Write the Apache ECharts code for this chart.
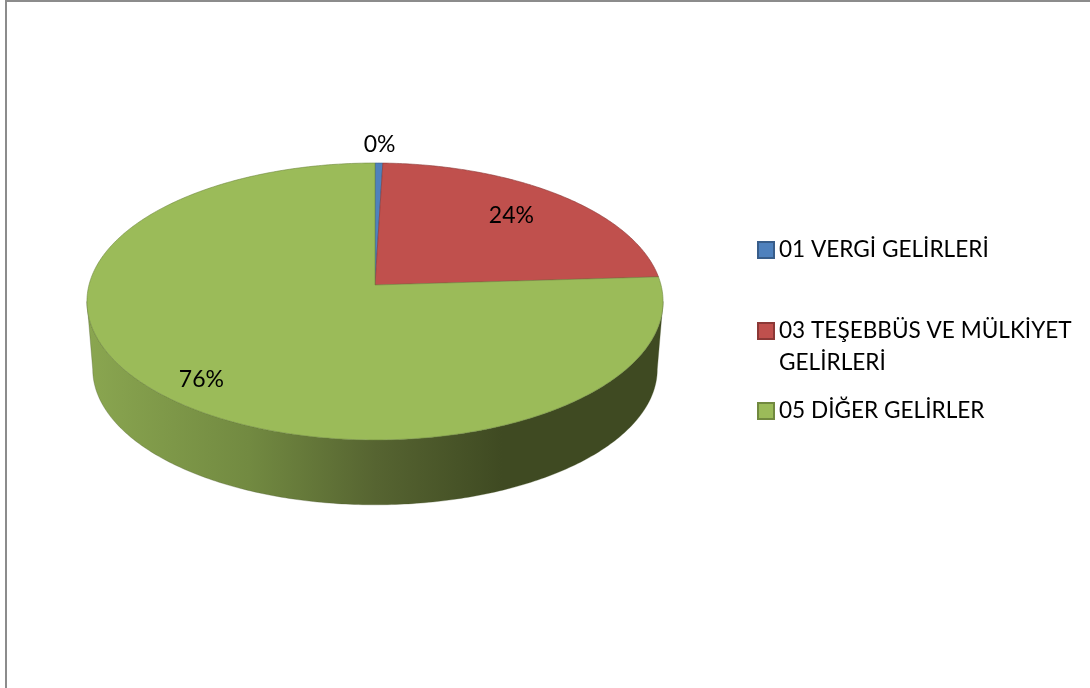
<!DOCTYPE html>
<html>
<head>
<meta charset="utf-8">
<style>html,body{margin:0;padding:0;background:#fff}#c{width:1090px;height:688px}</style>
<script src="https://cdn.jsdelivr.net/npm/echarts@6/dist/echarts.min.js"></script>
</head>
<body>
<div id="c"></div>
<script>
// Data
const categories = ['01 VERGİ GELİRLERİ', '03 TEŞEBBÜS VE MÜLKİYET GELİRLERİ', '05 DİĞER GELİRLER'];
const values = [0.49, 23.56, 75.95];
const percentLabels = ['0%', '24%', '76%'];

// Styling / layout
const colors = ['#4f81bd', '#c0504d', '#9bbb59'];
const borders = ['#385d8a', '#8c3836', '#71893f'];
const labelRadius = [1.172, 0.745, 0.85];
const labelAngleShift = [0, -1.2, -2];
const legendTops = [234, 283, 395];
const FONT = 'Lato';
const FONT_SIZE = 22.6;
const LABEL_FONT_SIZE = 23;
const APEX = { x: 375, y: 285 };
const A = 286, B = 136.5, K = 0.119;
const DEPTH = 68, BOTTOM_SCALE = 0.98;
const total = values.reduce((a, b) => a + b, 0);

function project(theta, r, dy, s) {
  const X = r * Math.sin(theta), Y = -r * Math.cos(theta), d = 1 - K * Y;
  return [APEX.x + s * A * X / d, APEX.y + dy + s * B * Y / d];
}
function arcPoints(t0, t1, dy, s) {
  const n = Math.max(2, Math.ceil(Math.abs(t1 - t0) / (Math.PI / 240)));
  const pts = [];
  for (let i = 0; i <= n; i++) pts.push(project(t0 + (t1 - t0) * i / n, 1, dy, s));
  return pts;
}
const frontStart = Math.acos(-K), frontEnd = 2 * Math.PI - frontStart;

function renderSlice(params, api) {
  const i = params.seriesIndex;
  const before = values.slice(0, i).reduce((a, b) => a + b, 0);
  const t0 = before / total * 2 * Math.PI;
  const t1 = t0 + api.value(0) / total * 2 * Math.PI;
  const children = [];
  const ws = Math.max(t0, frontStart), we = Math.min(t1, frontEnd);
  if (we > ws) {
    const wall = arcPoints(ws, we, 0, 1).concat(arcPoints(we, ws, DEPTH, BOTTOM_SCALE));
    children.push({
      type: 'polygon',
      shape: { points: wall },
      style: {
        fill: {
          type: 'linear', x: 87, y: 0, x2: 664, y2: 0, global: true,
          colorStops: [
            { offset: 0, color: '#8aa650' },
            { offset: 0.28, color: '#728a41' },
            { offset: 0.5, color: '#566431' },
            { offset: 0.72, color: '#3f4a22' },
            { offset: 1, color: '#3f4a22' }
          ]
        },
        stroke: 'rgba(70,85,40,0.5)', lineWidth: 0.6
      }
    });
  }
  children.push({
    type: 'polygon',
    shape: { points: [[APEX.x, APEX.y]].concat(arcPoints(t0, t1, 0, 1)) },
    style: { fill: colors[i], stroke: borders[i], lineWidth: 0.6, lineJoin: 'round' }
  });
  const lp = project((t0 + t1) / 2 + labelAngleShift[i] * Math.PI / 180, labelRadius[i], 0, 1);
  children.push({
    type: 'text', z2: 10,
    style: {
      x: lp[0], y: lp[1], text: percentLabels[i], fill: '#000',
      font: LABEL_FONT_SIZE + 'px ' + FONT, align: 'center', verticalAlign: 'middle'
    }
  });
  return { type: 'group', children };
}

// the leading empty line keeps the icon level with the first text line
const legendNames = { };
legendNames[categories[1]] = '\n03 TEŞEBBÜS VE MÜLKİYET\nGELİRLERİ';

const chart = echarts.init(document.getElementById('c'), null, { renderer: 'canvas' });
chart.setOption({
  animation: false,
  backgroundColor: '#fff',
  graphic: [{
    type: 'rect', silent: true, z: -1,
    shape: { x: 6, y: 1, width: 2000, height: 2000 },
    style: { fill: 'none', stroke: '#8c8c8c', lineWidth: 2 }
  }],
  legend: categories.map((c, i) => ({
    data: [c], left: 757, top: legendTops[i], orient: 'vertical',
    icon: 'rect', itemWidth: 16, itemHeight: 16, itemGap: 0, padding: 0,
    selectedMode: false,
    formatter: n => legendNames[n] || n,
    textStyle: { fontFamily: FONT, fontSize: FONT_SIZE, color: '#000', lineHeight: 32 }
  })),
  series: categories.map((c, i) => ({
    type: 'custom',
    name: c,
    coordinateSystem: 'none',
    renderItem: renderSlice,
    silent: true,
    itemStyle: { color: colors[i], borderColor: borders[i], borderWidth: 2 },
    data: [[values[i]]]
  }))
});
</script>
</body>
</html>
